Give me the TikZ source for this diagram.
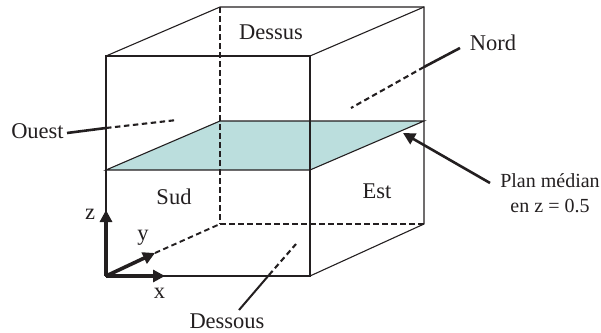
\documentclass[tikz,border=0pt]{standalone}
\usepackage{fontspec}
\setmainfont{Liberation Serif}
\usetikzlibrary{arrows.meta}
\definecolor{ink}{HTML}{231F20}
\definecolor{plane}{HTML}{BBDEDD}
\tikzset{
  edge/.style={draw=ink,line width=1.1pt},
  hidden/.style={draw=ink,line width=1.9pt,dash pattern=on 5.5pt off 3.5pt},
  lead/.style={draw=ink,line width=2.6pt},
  leaddash/.style={draw=ink,line width=2.1pt,dash pattern=on 5.5pt off 3.5pt},
  axis/.style={draw=ink,line width=3.6pt,-{Triangle[length=12pt,width=12pt]}},
  lab/.style={anchor=base,inner sep=0pt,text=ink,font=\fontsize{22.5}{24}\selectfont},
  labs/.style={anchor=base,inner sep=0pt,text=ink,font=\fontsize{20}{24}\selectfont}
}
\begin{document}
\begin{tikzpicture}[x=1pt,y=-1pt]
\useasboundingbox (0,0) rectangle (601,332);
% cube corners
\coordinate (ftl) at (106,56);
\coordinate (ftr) at (310,56);
\coordinate (fbl) at (106,276);
\coordinate (fbr) at (310,276);
\coordinate (btl) at (220,7);
\coordinate (btr) at (424,7);
\coordinate (bbl) at (220,224);
\coordinate (bbr) at (424,224);
\coordinate (mfl) at (106,170);
\coordinate (mfr) at (310,170);
\coordinate (mbl) at (220,121);
\coordinate (mbr) at (424,121);
% median plane
\fill[plane] (mfl) -- (mbl) -- (mbr) -- (mfr) -- cycle;
% hidden edges
\draw[hidden] (btl) -- (bbl);
\draw[hidden] (bbl) -- (bbr);
\coordinate (ytip) at (155,253);
\draw[hidden] (ytip) -- (bbl);
% visible edges
\draw[edge] (ftl) -- (ftr) -- (fbr) -- (fbl) -- cycle;
\draw[edge] (ftl) -- (btl) -- (btr) -- (bbr) -- (fbr);
\draw[edge] (ftr) -- (btr);
\draw[edge] (mfl) -- (mbl) -- (mbr) -- (mfr) -- cycle;
% axes
\coordinate (ztip) at (106,210);
\coordinate (xtip) at (165,276);
\draw[axis] (fbl) -- (ztip);
\draw[axis] (fbl) -- (ytip);
\draw[axis] (fbl) -- (xtip);
% labels
\node[lab] (dessus) at (271,39) {Dessus};
\node[lab] (nord) at (493,50) {Nord};
\node[lab] (ouest) at (37.5,138) {Ouest};
\node[lab] (sud) at (174,204) {Sud};
\node[lab] (est) at (377,198) {Est};
\node[lab] (dessous) at (227,328) {Dessous};
\node[labs] (plan) at (550,187) {Plan médian};
\node[labs] (enz) at (550,212) {en z = 0.5};
\node[lab] (lz) at (90,219) {z};
\node[lab] (ly) at (143,240) {y};
\node[lab] (lx) at (159.5,298) {x};
% leaders
\coordinate (oA) at (67,133);
\coordinate (oB) at (106,128);
\coordinate (oC) at (177,120);
\draw[lead] (oA) -- (oB);
\draw[leaddash] (oB) -- (oC);
\coordinate (nA) at (460,48);
\coordinate (nB) at (424,67);
\coordinate (nC) at (351,108);
\draw[lead] (nA) -- (nB);
\draw[leaddash] (nB) -- (nC);
\coordinate (dA) at (239,310);
\coordinate (dB) at (269,275);
\coordinate (dC) at (296,244);
\draw[draw=ink,line width=2pt] (dA) -- (dB);
\draw[leaddash] (dB) -- (dC);
\coordinate (pA) at (490,183);
\coordinate (pB) at (403,133);
\draw[draw=ink,line width=2.6pt,-{Triangle[length=12pt,width=12pt]}] (pA) -- (pB);
\end{tikzpicture}
\end{document}
